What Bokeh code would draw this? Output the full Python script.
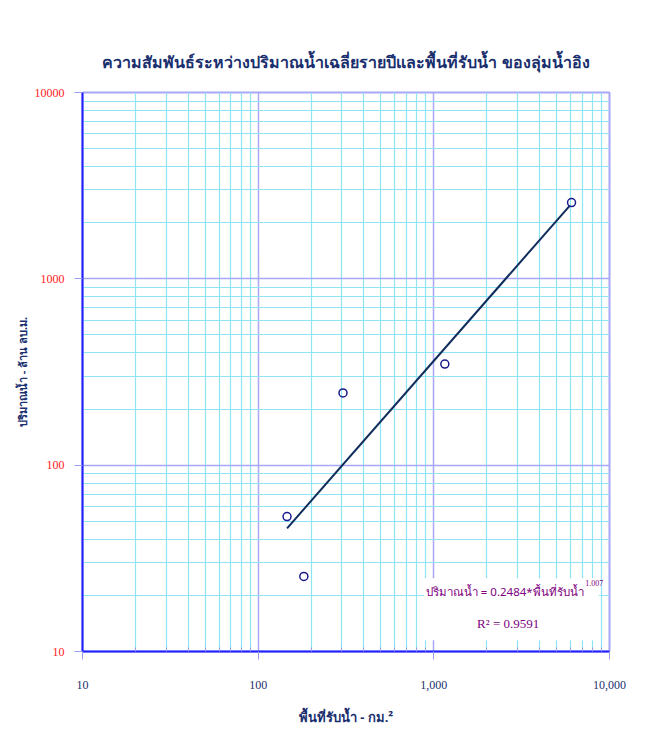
from bokeh.plotting import figure
from bokeh.models import FixedTicker, Label, BoxAnnotation, Title
from bokeh.embed import file_html
from bokeh.resources import INLINE

# data
area_km2 = [146, 182, 304, 1155, 6080]
runoff_mcm = [53, 25.3, 244, 349, 2565]
trend_x = [146, 5930]
trend_y = [45.8, 2466]

x_ticks = [10, 100, 1000, 10000]
x_tick_labels = ["10", "100", "1,000", "10,000"]
y_ticks = [10, 100, 1000, 10000]
y_tick_labels = ["10", "100", "1000", "10000"]

title_text = "ความสัมพันธ์ระหว่างปริมาณน้ำเฉลี่ยรายปีและพื้นที่รับน้ำ ของลุ่มน้ำอิง"
x_label = "พื้นที่รับน้ำ - กม.²"
y_label = "ปริมาณน้ำ - ล้าน ลบ.ม."
eq_text = "ปริมาณน้ำ = 0.2484*พื้นที่รับน้ำ"
eq_exp = "1.007"
r2_text = "R² = 0.9591"

NAVY = "#1a2f6e"
SERIF = "Liberation Serif"

p = figure(x_axis_type="log", y_axis_type="log",
           x_range=(10, 10000), y_range=(10, 10000),
           width=640, height=730,
           min_border_left=82, min_border_right=31,
           min_border_top=92, min_border_bottom=79,
           output_backend="svg", toolbar_location=None,
           background_fill_color="white", border_fill_color="white")

p.title = Title(text=title_text, align="center", text_color=NAVY,
                text_font_size="16px", text_font_style="bold",
                text_font="Noto Sans", standoff=39)

minor = []
for d in [10, 100, 1000]:
    for m in range(2, 10):
        minor.append(d * m)

p.xaxis.ticker = FixedTicker(ticks=x_ticks, minor_ticks=minor)
p.yaxis.ticker = FixedTicker(ticks=y_ticks, minor_ticks=minor)
p.xaxis.major_label_overrides = {t: l for t, l in zip(x_ticks, x_tick_labels)}
p.yaxis.major_label_overrides = {t: l for t, l in zip(y_ticks, y_tick_labels)}

for ax in (p.xaxis, p.yaxis):
    ax.axis_line_color = "#2020ff"
    ax.axis_line_width = 2
    ax.major_tick_line_color = "#9a9af0"
    ax.minor_tick_line_color = "#9a9af0"
    ax.major_tick_out = 8
    ax.major_tick_in = 0
    ax.minor_tick_out = 0
    ax.minor_tick_in = 4
    ax.major_label_text_font = SERIF
    ax.major_label_text_font_size = "12px"
    ax.axis_label_text_font = "Noto Sans"
    ax.axis_label_text_font_style = "bold"
    ax.axis_label_text_color = NAVY

p.yaxis.minor_tick_line_color = None
p.xaxis.major_label_text_color = NAVY
p.yaxis.major_label_text_color = "#ff1a1a"
p.xaxis.major_label_standoff = 21
p.yaxis.major_label_standoff = 10
p.xaxis.axis_label = x_label
p.yaxis.axis_label = y_label
p.xaxis.axis_label_text_font_size = "13px"
p.yaxis.axis_label_text_font_size = "11px"
p.xaxis.axis_label_standoff = 16
p.yaxis.axis_label_standoff = 2

for g in (p.xgrid, p.ygrid):
    g.grid_line_color = "#a8a8f5"
    g.grid_line_width = 1.5
    g.minor_grid_line_color = "#8fe3f5"
    g.minor_grid_line_width = 1.2

p.outline_line_color = "#a8a8f5"
p.outline_line_width = 2
p.outline_line_alpha = 1

p.line(trend_x, trend_y, line_color="#0f2d5c", line_width=2)
p.scatter(area_km2, runoff_mcm, marker="circle", size=8,
          fill_color=None, line_color="#1a1a8c", line_width=1.5)

p.add_layout(BoxAnnotation(left=880, right=8700, bottom=11.5, top=24.7,
                           fill_color="white", fill_alpha=1, line_color=None))

p.add_layout(Label(x=900, y=21, text=eq_text, text_color="#800080",
                   text_font="Noto Sans", text_font_size="11.5px",
                   text_baseline="middle"))
p.add_layout(Label(x=8200, y=23.2, text=eq_exp, text_color="#800080",
                   text_font=SERIF, text_font_size="8px",
                   text_baseline="middle", text_align="center"))
p.add_layout(Label(x=2650, y=14.2, text=r2_text, text_color="#800080",
                   text_font=SERIF, text_font_size="13px",
                   text_baseline="middle", text_align="center"))

open("out.html", "w").write(file_html(p, INLINE))
